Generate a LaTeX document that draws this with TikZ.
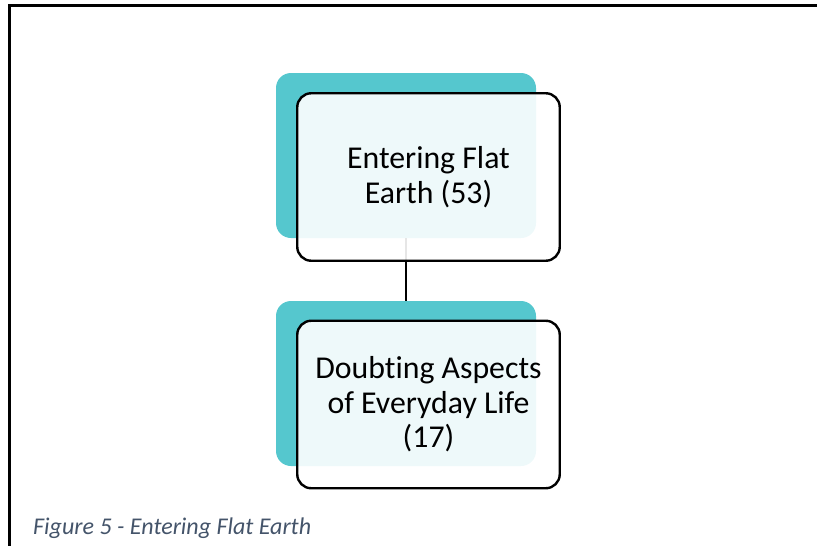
\documentclass[tikz,border=0pt]{standalone}
\usepackage{fontspec}
\setmainfont{Carlito}[Ligatures=CommonOff]
\definecolor{tealback}{HTML}{55C7CE}
\definecolor{captionblue}{HTML}{44546A}
\tikzset{
  backbox/.style={fill=tealback, draw=none, rounded corners=15pt,
    minimum width=260pt, minimum height=165pt, inner sep=0pt},
  frontbox/.style={fill=white, fill opacity=0.9, text opacity=1, draw=black,
    line width=2.4pt, rounded corners=14pt, minimum width=262.5pt,
    minimum height=167.5pt, inner sep=0pt, align=center,
    font=\fontsize{31.8}{34.5}\selectfont},
  linkline/.style={draw=black, line width=2pt},
  framebar/.style={draw=black, line width=3pt},
}
\begin{document}
\begin{tikzpicture}[x=1pt,y=-1pt]
\useasboundingbox (0,0) rectangle (817,546);
% page frame
\coordinate (frameA) at (9.5,546);
\coordinate (frameB) at (9.5,5);
\coordinate (frameC) at (817,5);
\draw[framebar] (frameA) -- (frameB) -- (frameC);
% shaded backing panels
\node[backbox] (back1) at (406,155.5) {};
\node[backbox] (back2) at (406,383.5) {};
% link between the two stages
\draw[linkline] (back1.south) -- (back2.north);
% text boxes
\node[frontbox] (front1) at (428.5,177) {Entering Flat\\Earth (53)};
\node[frontbox] (front2) at (428.5,404.5) {Doubting Aspects\\of Everyday Life\\(17)};
% caption
\node[anchor=base west, inner sep=0pt, text=captionblue,
  font=\itshape\fontsize{24}{28}\selectfont] (caption) at (33,534)
  {Figure 5 - Entering Flat Earth};
\end{tikzpicture}
\end{document}
